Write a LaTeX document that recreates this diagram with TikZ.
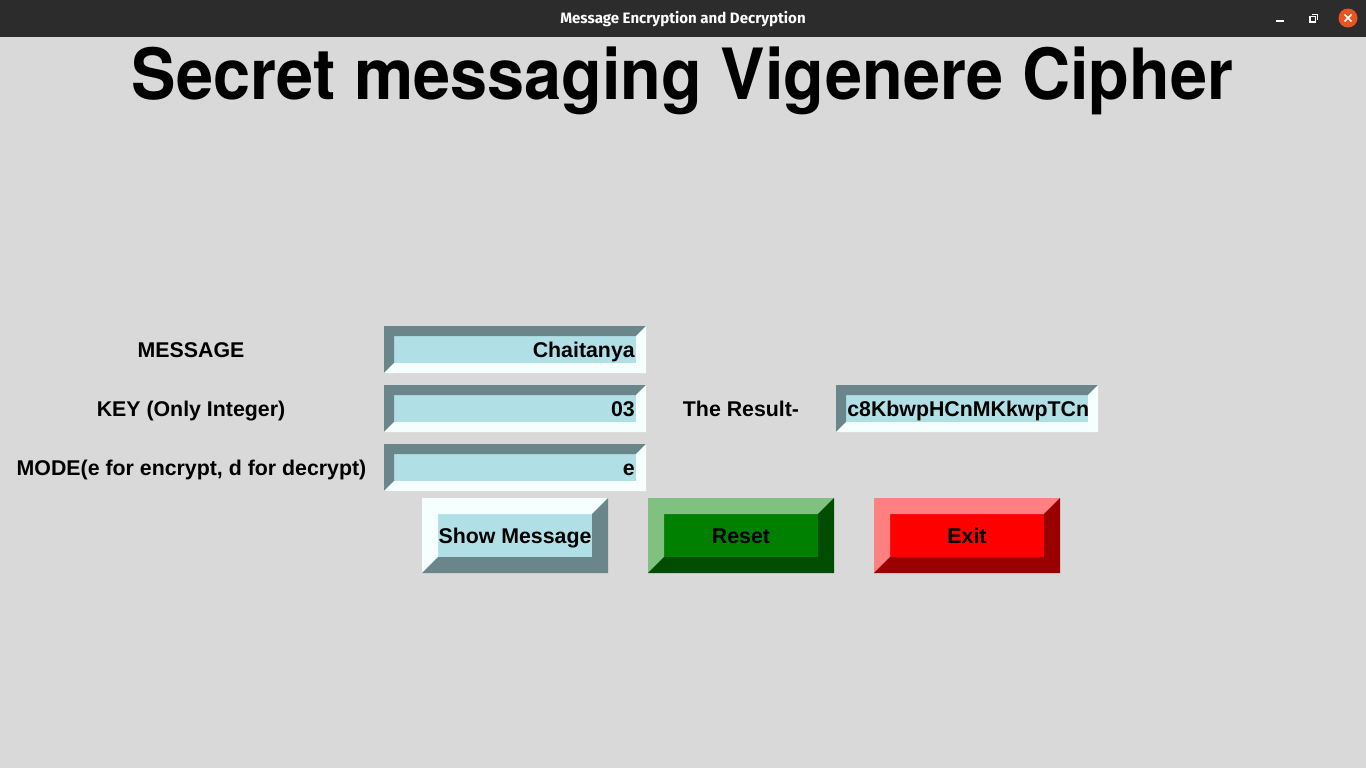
\documentclass[tikz,border=0pt]{standalone}
\usepackage{fontspec}
\setmainfont{Liberation Sans}
\newfontfamily\barfont{Fira Sans}
\newfontfamily\headfont{TeX Gyre Heros}
\definecolor{winbg}{HTML}{D9D9D9}
\definecolor{barbg}{HTML}{2C2C2C}
\definecolor{pblue}{HTML}{B0E0E6}
\definecolor{pdark}{HTML}{6A868A}
\definecolor{plight}{HTML}{F5FFFE}
\definecolor{gmain}{HTML}{008000}
\definecolor{glight}{HTML}{80C080}
\definecolor{gdark}{HTML}{004C00}
\definecolor{rmain}{HTML}{FF0000}
\definecolor{rlight}{HTML}{FF8080}
\definecolor{rdark}{HTML}{990000}
\definecolor{closeor}{HTML}{E95420}
% x0 y0 x1 y1 bevel topleft bottomright fill
\newcommand\bevelbox[8]{%
 \fill[#8] (#1,#2) rectangle (#3,#4);
 \fill[#6] (#1,#4) -- (#1,#2) -- (#3,#2) -- ({#3-#5},{#2+#5}) -- ({#1+#5},{#2+#5}) -- ({#1+#5},{#4-#5}) -- cycle;
 \fill[#7] (#1,#4) -- (#3,#4) -- (#3,#2) -- ({#3-#5},{#2+#5}) -- ({#3-#5},{#4-#5}) -- ({#1+#5},{#4-#5}) -- cycle;
}
\tikzset{
 lbl/.style={font=\fontsize{16}{19}\selectfont\bfseries, inner sep=0pt, anchor=base, text=black},
 entrytxt/.style={lbl, anchor=base east},
 titletxt/.style={font=\headfont\fontsize{50}{60}\selectfont\bfseries, inner sep=0pt, anchor=base, yscale=1.06},
 bartxt/.style={font=\barfont\bfseries\fontsize{11.3}{13}\selectfont, text=white, inner sep=0pt, anchor=base},
}
\begin{document}
\begin{tikzpicture}[x=0.75pt,y=-0.75pt]
\useasboundingbox (0,0) rectangle (1366,768);
\fill[winbg] (0,0) rectangle (1366,768);
% title bar
\fill[barbg] (0,0) rectangle (1366,37);
\node[bartxt] (wintitle) at (683,23) {Message Encryption and Decryption};
\draw[white, line width=0.9pt] (1276,21) -- (1284,21);
\draw[white, line width=0.8pt] (1310,16.5) rectangle (1315.5,22);
\draw[white, line width=0.8pt] (1312,14.5) -- (1317.5,14.5) -- (1317.5,20);
\fill[closeor] (1348,18) circle (9.5);
\draw[white, line width=1.1pt] (1344.5,14.5) -- (1351.5,21.5) (1344.5,21.5) -- (1351.5,14.5);
% heading
\node[titletxt] (heading) at (682.5,99) {Secret messaging Vigenere Cipher};
% labels
\node[lbl] (lmsg) at (191,357) {MESSAGE};
\node[lbl] (lkey) at (191,416) {KEY (Only Integer)};
\node[lbl] (lmode) at (191.5,475) {MODE(e for encrypt, d for decrypt)};
\node[lbl] (lres) at (741,416) {The Result-};
% entries (sunken)
\bevelbox{384}{326}{646}{373}{10}{pdark}{plight}{pblue}
\bevelbox{384}{385}{646}{432}{10}{pdark}{plight}{pblue}
\bevelbox{384}{444}{646}{491}{10}{pdark}{plight}{pblue}
\bevelbox{836}{385}{1098}{432}{10}{pdark}{plight}{pblue}
\node[entrytxt] (emsg) at (635,357) {Chaitanya};
\node[entrytxt] (ekey) at (635,416) {03};
\node[entrytxt] (emode) at (635,475) {e};
\begin{scope}
\clip (846,395) rectangle (1088,422);
\node[lbl, anchor=base west] (eres) at (847,416) {c8KbwpHCnMKkwpTCn};
\end{scope}
% buttons (raised)
\bevelbox{422}{498}{608}{573}{16}{plight}{pdark}{pblue}
\bevelbox{648}{498}{834}{573}{16}{glight}{gdark}{gmain}
\bevelbox{874}{498}{1060}{573}{16}{rlight}{rdark}{rmain}
\node[lbl] (bshow) at (515,543) {Show Message};
\node[lbl] (breset) at (741,543) {Reset};
\node[lbl] (bexit) at (967,543) {Exit};
\end{tikzpicture}
\end{document}
